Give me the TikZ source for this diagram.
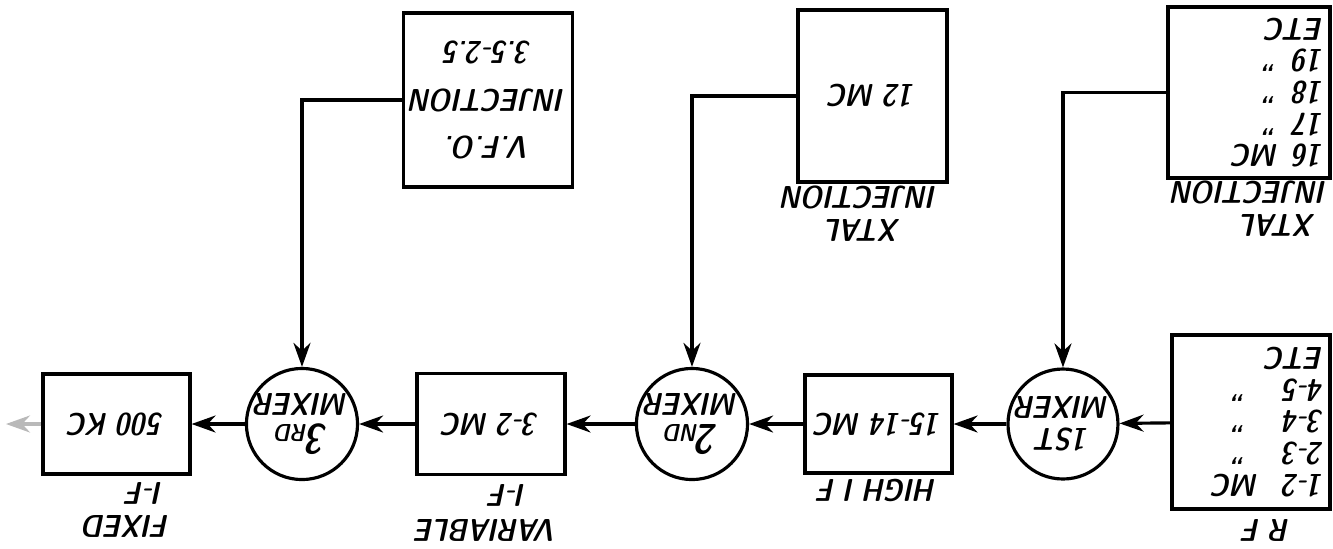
\documentclass[tikz,border=0pt]{standalone}
\usepackage{tikz}
\usetikzlibrary{arrows.meta,positioning}

\newcommand{\hand}{\sffamily\fontseries{sbc}\slshape\fontsize{9}{9}\selectfont}
\newcommand{\freqrow}[3]{\makebox[#1][l]{#2}#3}

\tikzset{
  blk/.style={draw, line width=0.9pt, font=\hand, align=center, inner sep=2pt},
  mixer/.style={draw, circle, line width=0.9pt, minimum size=1.1cm, inner sep=0pt,
    font=\hand, align=center},
  lbl/.style={font=\hand, inner sep=0pt},
  sig/.style={line width=0.9pt, -{Stealth[length=2.4mm,width=1.7mm]}},
}

\begin{document}
\begin{tikzpicture}[rotate=180, transform shape]
  \useasboundingbox (0,0) rectangle (13.33,5.48);

  % signal chain
  \node[blk, text width=1.46cm, inner xsep=0.06cm, minimum height=1.74cm, align=left]
    (rf) at (0.82,4.22) {\freqrow{6.5mm}{1-2}{MC}\\ \freqrow{6.5mm}{2-3}{\ ''}\\
      \freqrow{6.5mm}{3-4}{\ ''}\\ \freqrow{6.5mm}{4-5}{\ ''}\\ ETC};
  \node[mixer] (m1) at (2.70,4.24) {1ST\\MIXER};
  \node[blk, minimum width=1.47cm, minimum height=0.98cm] (hif) at (4.545,4.24) {15-14 MC};
  \node[mixer] (m2) at (6.41,4.24) {{\large 2}{\scriptsize ND}\\MIXER};
  \node[blk, minimum width=1.48cm, minimum height=1.01cm] (vif) at (8.42,4.24) {3-2 MC};
  \node[mixer] (m3) at (10.31,4.24) {{\large 3}{\scriptsize RD}\\MIXER};
  \node[blk, minimum width=1.47cm, minimum height=1.0cm] (fif) at (12.165,4.24) {500 KC};
  \coordinate (out) at (13.27,4.24);

  % injection sources
  \node[blk, text width=1.50cm, inner xsep=0.06cm, minimum height=1.71cm, align=left]
    (xtal1) at (0.84,0.925) {\freqrow{4.5mm}{16}{MC}\\ \freqrow{4.5mm}{17}{''}\\
      \freqrow{4.5mm}{18}{''}\\ \freqrow{4.5mm}{19}{''}\\ ETC};
  \node[blk, minimum width=1.49cm, minimum height=1.72cm] (xtal2) at (4.605,0.96) {12 MC};
  \node[blk, minimum width=1.50cm, minimum height=1.74cm, align=center, font=\hand\linespread{1.5}\selectfont]
    (vfo) at (8.45,1.0) {V.F.O.\\INJECTION\\3.5-2.5};

  % labels
  \node[lbl] (rflbl) at (0.66,5.30) {R F};
  \node[lbl] (hiflbl) at (4.55,4.90) {HIGH I F};
  \node[lbl] (viflbla) at (8.25,4.95) {I-F};
  \node[lbl] (viflblb) at (8.46,5.30) {VARIABLE};
  \node[lbl] (fiflbla) at (11.88,4.93) {I-F};
  \node[lbl] (fiflblb) at (12.06,5.26) {FIXED};
  \node[lbl] (xtlbla) at (0.83,1.92) {INJECTION};
  \node[lbl] (xtlblb) at (0.55,2.25) {XTAL};
  \node[lbl] (xtlblc) at (4.73,1.97) {INJECTION};
  \node[lbl] (xtlbld) at (4.70,2.30) {XTAL};

  % connections
  \draw[sig] (rf) -- (m1);
  \draw[sig] (m1) -- (hif);
  \draw[sig] (hif) -- (m2);
  \draw[sig] (m2) -- (vif);
  \draw[sig] (vif) -- (m3);
  \draw[sig] (m3) -- (fif);
  \draw[sig, gray!55] (fif) -- (out);
  \draw[sig] (xtal1.east) -| (m1);
  \draw[sig] (xtal2.east) -| (m2);
  \draw[sig] (vfo.east) -| (m3);
\end{tikzpicture}
\end{document}
